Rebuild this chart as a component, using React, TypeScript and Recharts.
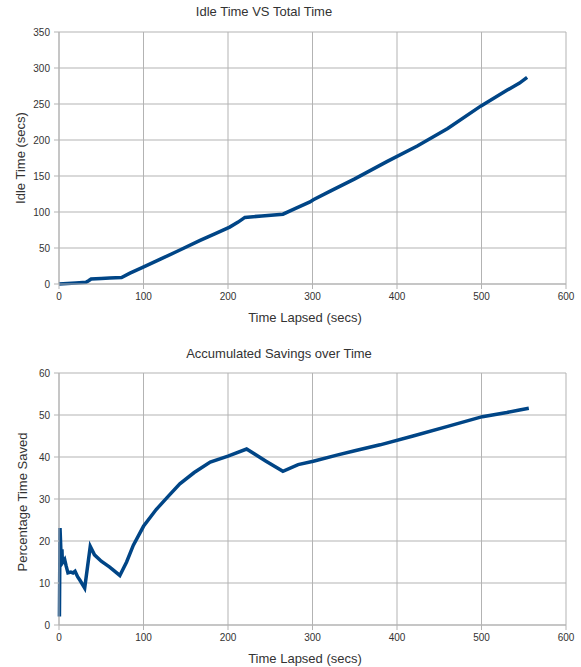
import { LineChart, Line, XAxis, YAxis, CartesianGrid } from "recharts";

// Idle Time VS Total Time
const idleSecs = [0, 10, 20, 32, 35, 38, 50, 60, 74, 84, 99, 120, 140, 167, 185, 202, 212, 220, 240, 265, 280, 297, 301, 321, 350, 388, 424, 460, 499, 530, 545, 554];
const idleTime = [0, 0.8, 1.5, 2.3, 4.5, 7, 7.8, 8.3, 9, 15, 23, 34.5, 45.5, 60.5, 70, 79, 86, 92.5, 94.5, 97, 105, 114, 117, 129, 146, 170, 191.7, 216, 247, 269, 279, 287];

// Accumulated Savings over Time
const saveSecs = [0.5, 1.2, 2, 2.5, 3.5, 4, 6.7, 8.5, 10.6, 14, 16.6, 19, 22, 25, 30.4, 37, 42, 50, 60, 72, 80, 88, 100, 115, 130, 143, 160, 179, 200, 222, 245, 265, 283, 301, 330, 350, 380, 419, 460, 501, 530, 545, 556];
const savePct = [2, 23.1, 19, 16, 18, 14.8, 15.6, 14, 12.4, 12.6, 12.4, 12.8, 11.5, 10.6, 8.8, 18.7, 16.7, 15.2, 13.8, 11.8, 15, 19, 23.5, 27.5, 30.8, 33.6, 36.3, 38.8, 40.2, 41.9, 39, 36.6, 38.2, 39, 40.5, 41.5, 42.9, 45, 47.3, 49.6, 50.6, 51.2, 51.6];

const xTicks = [0, 100, 200, 300, 400, 500, 600];
const idleTicks = [0, 50, 100, 150, 200, 250, 300, 350];
const saveTicks = [0, 10, 20, 30, 40, 50, 60];

const idleData = idleSecs.map((x, i) => ({ x, y: idleTime[i] }));
const saveData = saveSecs.map((x, i) => ({ x, y: savePct[i] }));

const GRID = "#b3b3b3";
const BLUE = "#004586";
const tickStyle = { fontSize: 10, fill: "#333" };

function Panel({ data, yTicks, yMax, height, bottom }: { data: { x: number; y: number }[]; yTicks: number[]; yMax: number; height: number; bottom: number }) {
  return (
    <LineChart width={581} height={height} data={data} margin={{ top: 32, right: 15, left: 9, bottom }}>
      <CartesianGrid stroke={GRID} strokeWidth={1} />
      <XAxis
        dataKey="x"
        type="number"
        domain={[0, 600]}
        ticks={xTicks}
        interval={0}
        height={30}
        tickSize={5}
        tickMargin={4}
        tick={tickStyle}
        axisLine={{ stroke: GRID }}
        tickLine={{ stroke: GRID }}
      />
      <YAxis
        type="number"
        domain={[0, yMax]}
        ticks={yTicks}
        interval={0}
        width={50}
        tickSize={5}
        tickMargin={4}
        tick={tickStyle}
        axisLine={{ stroke: GRID }}
        tickLine={{ stroke: GRID }}
      />
      <Line type="linear" dataKey="y" stroke={BLUE} strokeWidth={3.5} dot={false} isAnimationActive={false} />
    </LineChart>
  );
}

const textBase: React.CSSProperties = { position: "absolute", fontSize: 13, color: "#333", whiteSpace: "nowrap" };

export default function App() {
  return (
    <div style={{ position: "absolute", left: 0, top: 0, width: 581, height: 667, background: "#fff", fontFamily: "'Liberation Sans', Arial, sans-serif" }}>
      <div style={{ position: "absolute", left: 0, top: 0 }}>
        <Panel data={idleData} yTicks={idleTicks} yMax={350} height={330} bottom={16} />
      </div>
      <div style={{ position: "absolute", left: 0, top: 341 }}>
        <Panel data={saveData} yTicks={saveTicks} yMax={60} height={326} bottom={12} />
      </div>

      <div style={{ ...textBase, left: 264, top: 4, transform: "translateX(-50%)" }}>Idle Time VS Total Time</div>
      <div style={{ ...textBase, left: 305, top: 310, transform: "translateX(-50%)" }}>Time Lapsed (secs)</div>
      <div style={{ ...textBase, left: 20, top: 158, transform: "translate(-50%, -50%) rotate(-90deg)" }}>Idle Time (secs)</div>

      <div style={{ ...textBase, left: 279, top: 346, transform: "translateX(-50%)" }}>Accumulated Savings over Time</div>
      <div style={{ ...textBase, left: 305, top: 651, transform: "translateX(-50%)" }}>Time Lapsed (secs)</div>
      <div style={{ ...textBase, left: 22, top: 502, transform: "translate(-50%, -50%) rotate(-90deg)" }}>Percentage Time Saved</div>
    </div>
  );
}
